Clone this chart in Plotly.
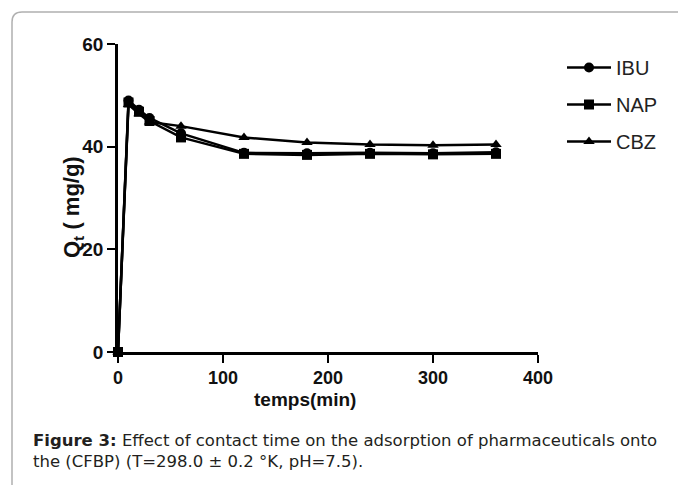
import plotly.graph_objects as go

# Contact time (min) and adsorbed amount Qt (mg/g)
time_min = [0, 10, 20, 30, 60, 120, 180, 240, 300, 360]
qt_ibu = [0, 49.0, 47.2, 45.6, 42.6, 38.8, 38.7, 38.8, 38.7, 38.9]
qt_nap = [0, 48.6, 46.8, 45.0, 41.8, 38.6, 38.4, 38.6, 38.5, 38.6]
qt_cbz = [0, 48.2, 46.4, 44.8, 44.0, 41.8, 40.8, 40.4, 40.3, 40.4]

series_names = ["IBU", "NAP", "CBZ"]
series_values = [qt_ibu, qt_nap, qt_cbz]
series_symbols = ["circle", "square", "triangle-up"]

x_ticks = [0, 100, 200, 300, 400]
y_ticks = [0, 20, 40, 60]

W, H = 678, 485
ML, MR, MT, MB = 118, 140, 44, 133
PW, PH = W - ML - MR, H - MT - MB
FONT = "Liberation Sans, Arial"


def px(x):
    return (x - ML) / PW


def py(y):
    return (H - MB - y) / PH


fig = go.Figure()
for name, vals, sym in zip(series_names, series_values, series_symbols):
    fig.add_trace(go.Scatter(
        x=time_min, y=vals, name=name, legendgroup=name,
        mode="lines+markers",
        line=dict(color="black", width=2.5),
        marker=dict(symbol=sym, size=10, color="black"),
        cliponaxis=False,
    ))

axis_common = dict(
    showgrid=False, zeroline=False,
    showline=True, linecolor="black", linewidth=2.5,
    ticks="outside", ticklen=8, tickwidth=2, tickcolor="black",
)

fig.update_layout(
    width=W, height=H,
    margin=dict(l=ML, r=MR, t=MT, b=MB),
    paper_bgcolor="white", plot_bgcolor="white",
    font=dict(family=FONT, color="#111111"),
    xaxis=dict(range=[0, 400], tickvals=x_ticks,
               tickfont=dict(family=FONT, size=18, color="#111111", weight="bold"),
               **axis_common),
    yaxis=dict(range=[0, 60], tickvals=y_ticks,
               tickfont=dict(family=FONT, size=19, color="#111111", weight="bold"),
               **axis_common),
    legend=dict(
        x=px(562), y=py(48), xanchor="left", yanchor="top",
        font=dict(family=FONT, size=20, color="#222222"),
        bgcolor="rgba(0,0,0,0)", tracegroupgap=8, itemwidth=44,
    ),
    showlegend=True,
)

# Axis titles
fig.add_annotation(
    xref="paper", yref="paper", x=px(252), y=py(412),
    text="temps(min)", showarrow=False,
    font=dict(family=FONT, size=19, color="#111111", weight="bold"),
)
fig.add_annotation(
    xref="paper", yref="paper", x=px(57), y=py(207),
    text="Q<sub>t</sub> ( mg/g)", showarrow=False, textangle=-90,
    font=dict(family=FONT, size=22, color="#111111", weight="bold"),
)

# Rounded frame around the figure panel
r = 10
x0, y0 = px(12), py(12)
x1, y1 = px(700), py(500)
rx, ry = r / PW, r / PH
fig.add_shape(
    type="path", xref="paper", yref="paper",
    path=(f"M {x0},{y1} L {x0},{y0 - ry} Q {x0},{y0} {x0 + rx},{y0} L {x1},{y0}"),
    line=dict(color="#b0b0b0", width=1.5),
)

# Caption
cap_font = dict(family="DejaVu Sans", size=16.5, color="#231f20")
fig.add_annotation(
    xref="paper", yref="paper", x=px(31), y=py(441), xanchor="left", yanchor="middle",
    text="<b>Figure 3:</b> Effect of contact time on the adsorption of pharmaceuticals onto",
    showarrow=False, align="left", font=cap_font,
)
fig.add_annotation(
    xref="paper", yref="paper", x=px(31), y=py(461), xanchor="left", yanchor="middle",
    text="the (CFBP) (T=298.0 ± 0.2 °K, pH=7.5).",
    showarrow=False, align="left", font=cap_font,
)

fig.write_html("out.html")
